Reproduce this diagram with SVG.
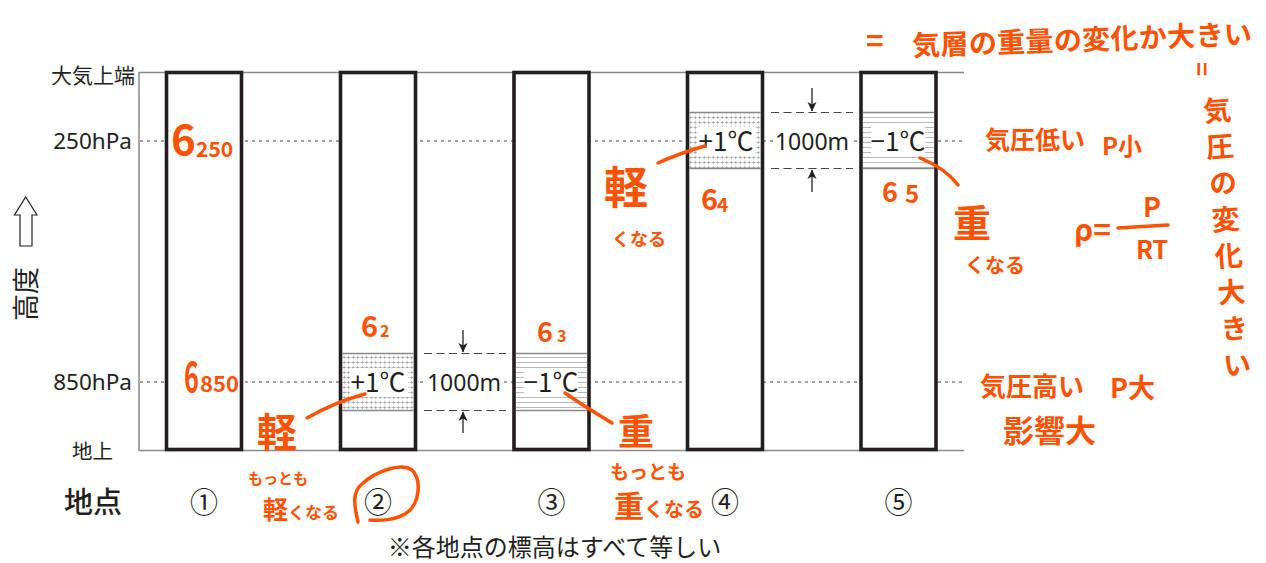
<svg xmlns="http://www.w3.org/2000/svg" width="1266" height="563" viewBox="0 0 1266 563">
<style>
.col{fill:#fff;stroke:#231f20;stroke-width:3.6}
.g{stroke:#8a8a8a;stroke-width:1.5;fill:none}
.zl{stroke:#8a8a8a;stroke-width:1.3;fill:none}
.dot{stroke:#444;stroke-width:1.2;stroke-dasharray:3 4;fill:none}
.dash{stroke:#444;stroke-width:1.2;stroke-dasharray:8 4.5;fill:none}
.arr{stroke:#231f20;stroke-width:1.3;fill:none}
.t{font-family:"Noto Sans CJK JP","Noto Sans",sans-serif;fill:#231f20}
.l{font-family:"Noto Sans","Noto Sans CJK JP",sans-serif;fill:#231f20}
.o{font-family:"Noto Sans CJK JP","Noto Sans",sans-serif;fill:#ff5200;font-weight:700}
.ol{stroke:#ff5200;stroke-width:3.5;fill:none;stroke-linecap:round;stroke-linejoin:round}
</style>
<defs>
<pattern id="plus" width="4.5" height="5" patternUnits="userSpaceOnUse">
<path d="M0.5,2.5h3.5M2.25,0.75v3.5" stroke="#888" stroke-width="0.6"/>
</pattern>
<pattern id="lines" width="10" height="5" patternUnits="userSpaceOnUse">
<path d="M0,2.5h10" stroke="#888" stroke-width="0.6"/>
</pattern>
<marker id="ah" markerWidth="10" markerHeight="10" refX="9" refY="5" orient="auto" markerUnits="userSpaceOnUse">
<path d="M0,0.5 L9.5,5 L0,9.5 L2.5,5 Z" fill="#231f20"/>
</marker>
</defs>

<g id="frame">
<path class="g" d="M139,72.5H964M139,450.5H964M139,72V451"/>
<path class="dot" d="M140,141H964M140,382H964"/>
</g>

<g id="axis">
<text class="t" x="135" y="83" font-size="21" text-anchor="end">大気上端</text>
<text class="l" x="132" y="149" font-size="22.5" text-anchor="end">250hPa</text>
<text class="l" x="132" y="390" font-size="22.5" text-anchor="end">850hPa</text>
<text class="t" x="113" y="459" font-size="20.5" text-anchor="end">地上</text>
<polygon points="25.7,197 37,215 32,215 32,246 20,246 20,215 14.5,215" fill="#fff" stroke="#231f20" stroke-width="1.2"/>
<text class="t" transform="translate(26,294) rotate(-90)" x="0" y="10" font-size="27" text-anchor="middle">高度</text>
</g>

<g id="col1"><rect class="col" x="166.5" y="72.5" width="75" height="377"/></g>

<g id="col2">
<rect class="col" x="340.5" y="72.5" width="75" height="377"/>
<rect x="342.3" y="354" width="71.4" height="56.5" fill="url(#plus)"/>
<rect x="350" y="368" width="58" height="29" fill="#fff"/>
<path class="zl" d="M342.3,353.5H413.7M342.3,410.5H413.7"/>
<text class="t" x="378" y="391.5" font-size="26" text-anchor="middle">+1℃</text>
</g>

<g id="col3">
<rect class="col" x="514" y="72.5" width="75" height="377"/>
<rect x="515.8" y="354" width="71.4" height="56.5" fill="url(#lines)"/>
<rect x="524" y="368" width="54" height="29" fill="#fff"/>
<path class="zl" d="M515.8,353.5H587.2M515.8,410.5H587.2"/>
<text class="t" x="551" y="391.5" font-size="26" text-anchor="middle">−1℃</text>
</g>

<g id="col4">
<rect class="col" x="687.5" y="72.5" width="75" height="377"/>
<rect x="689.3" y="112.5" width="71.4" height="56" fill="url(#plus)"/>
<rect x="697" y="127" width="58" height="29" fill="#fff"/>
<path class="zl" d="M689.3,112.5H760.7M689.3,168.5H760.7"/>
<text class="t" x="726" y="150.5" font-size="26" text-anchor="middle">+1℃</text>
</g>

<g id="col5">
<rect class="col" x="861" y="72.5" width="75" height="377"/>
<rect x="862.8" y="112.5" width="71.4" height="56" fill="url(#lines)"/>
<rect x="871" y="127" width="54" height="29" fill="#fff"/>
<path class="zl" d="M862.8,112.5H934.2M862.8,168.5H934.2"/>
<text class="t" x="898" y="150.5" font-size="26" text-anchor="middle">−1℃</text>
</g>

<g id="connectors">
<rect x="426" y="368" width="78" height="29" fill="#fff"/>
<path class="dash" d="M424,353.5H506M424,410.5H506"/>
<path class="arr" d="M463,330V352" marker-end="url(#ah)"/>
<path class="arr" d="M463,433V412" marker-end="url(#ah)"/>
<rect x="773" y="127" width="78" height="29" fill="#fff"/>
<path class="dash" d="M771,112.5H853M771,168.5H853"/>
<path class="arr" d="M812,88V111" marker-end="url(#ah)"/>
<path class="arr" d="M812,192V170" marker-end="url(#ah)"/>
</g>
<g id="dim-labels">
<text class="l" x="464" y="391" font-size="23" text-anchor="middle">1000m</text>
<text class="l" x="812" y="150" font-size="23" text-anchor="middle">1000m</text>
</g>

<g id="bottom">
<text class="t" x="93" y="513" font-size="29" font-weight="500" text-anchor="middle">地点</text>
<text class="t" x="204" y="512.5" font-size="28" text-anchor="middle">①</text>
<text class="t" x="378" y="512.5" font-size="28" text-anchor="middle">②</text>
<text class="t" x="551.5" y="512.5" font-size="28" text-anchor="middle">③</text>
<text class="t" x="725" y="512.5" font-size="28" text-anchor="middle">④</text>
<text class="t" x="898.5" y="512.5" font-size="28" text-anchor="middle">⑤</text>
<text class="t" x="554.5" y="556" font-size="24" text-anchor="middle">※各地点の標高はすべて等しい</text>
</g>

<g id="annotations">
<text class="o" x="171" y="155" font-size="42">6</text>
<text class="o" x="196" y="157" font-size="21">250</text>
<text class="o" transform="translate(184,392) scale(0.6,1)" font-size="42">6</text>
<text class="o" x="200" y="392" font-size="22">850</text>
<text class="o" x="361" y="337" font-size="29">6</text>
<text class="o" x="380" y="337" font-size="16">2</text>
<text class="o" x="537" y="342" font-size="27">6</text>
<text class="o" x="557" y="342" font-size="16">3</text>
<text class="o" x="701" y="210" font-size="29">6</text>
<text class="o" x="717" y="212" font-size="19">4</text>
<text class="o" x="882" y="202" font-size="27">6</text>
<text class="o" x="905" y="203" font-size="24">5</text>

<text class="o" x="257" y="447" font-size="40">軽</text>
<path class="ol" d="M307,418 Q335,402 365,394"/>
<text class="o" x="248" y="484" font-size="15">もっとも</text>
<text class="o" x="263" y="519" font-size="25">軽<tspan font-size="17">くなる</tspan></text>
<path class="ol" d="M358,522 C354,505 352,492 362,484 C375,472 400,462 412,470 C422,480 420,505 405,514 C395,520 380,521 370,520"/>

<text class="o" x="618" y="445" font-size="36">重</text>
<path class="ol" d="M565,393 Q590,410 612,423"/>
<text class="o" x="610" y="479" font-size="19">もっとも</text>
<text class="o" x="614" y="517" font-size="30">重<tspan font-size="20">くなる</tspan></text>

<text class="o" x="604" y="204" font-size="44">軽</text>
<text class="o" x="612" y="246" font-size="18">くなる</text>
<path class="ol" d="M658,163 Q680,153 705,146"/>

<text class="o" x="953" y="237" font-size="38">重</text>
<text class="o" x="965" y="273" font-size="20">くなる</text>
<path class="ol" d="M920,158 Q945,168 958,185"/>

<text class="o" x="985" y="149" font-size="25">気圧低い</text>
<text class="o" x="1102" y="155" font-size="24">P小</text>

<text class="o" x="1074" y="241" font-size="30">ρ=</text>
<path class="ol" d="M1118,228 L1168,225"/>
<text class="o" x="1152" y="217" font-size="27" text-anchor="middle">P</text>
<text class="o" x="1152" y="259" font-size="25" text-anchor="middle">RT</text>

<text class="o" x="866" y="52" font-size="30">=</text>
<text class="o" x="912" y="50" font-size="28" textLength="340" transform="rotate(-2 1080 40)">気層の重量の変化か大きい</text>

<text class="o" transform="translate(1200,69) rotate(90)" x="0" y="7" font-size="24" text-anchor="middle">=</text>
<text class="o" writing-mode="tb" x="1216" y="96" font-size="28" letter-spacing="8.5" transform="rotate(-4.5 1216 96)">気圧の変化大きい</text>

<text class="o" x="980" y="396" font-size="26">気圧高い</text>
<text class="o" x="1110" y="398" font-size="27">P大</text>
<text class="o" x="1003" y="442" font-size="31">影響大</text>
</g>
</svg>
